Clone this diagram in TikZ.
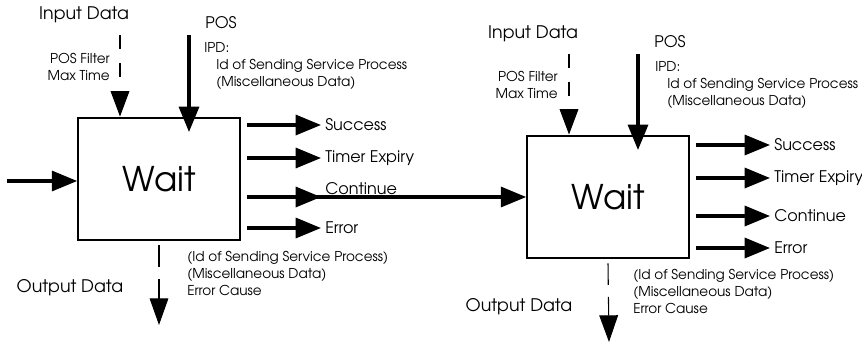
\documentclass[tikz,border=0pt]{standalone}
\usepackage{fontspec}
\setmainfont{texgyreadventor}[Extension=.otf, UprightFont=*-regular, BoldFont=*-bold]
\usetikzlibrary{arrows.meta, positioning, calc}

\tikzset{
  waitbox/.style={draw, line width=1.7pt, minimum width=121pt, minimum height=92pt,
    inner sep=0pt, font=\fontsize{25.5}{28}\selectfont},
  lbl/.style={inner sep=3pt, font=\fontsize{12}{14}\selectfont},
  iolbl/.style={inner sep=3pt, font=\fontsize{13}{15}\selectfont},
  small/.style={inner sep=0pt, align=left, font=\fontsize{10.2}{12.8}\selectfont},
  flow/.style={line width=2.4pt, -{Triangle[length=19pt, width=15pt]}},
  dataflow/.style={line width=0.8pt, dash pattern=on 10.5pt off 10.5pt,
    -{Triangle[length=19pt, width=14pt]}},
  outflow/.style={line width=0.8pt, dash pattern=on 16pt off 9pt,
    -{Triangle[length=20pt, width=14pt]}}
}

\begin{document}
\begin{tikzpicture}[x=0.75pt, y=-0.75pt]
  \useasboundingbox (0,0) rectangle (862,343);

  % first wait step
  \node[waitbox] (wait1) at (159,179) {Wait};

  \node[iolbl] (in1) at (84,15) {Input Data};
  \node[small, align=right, anchor=east] (filt1) at (110,67) {POS Filter\\Max Time};
  \coordinate (in1s) at (120,35);
  \draw[dataflow] (in1s) -- (in1s |- wait1.north);

  \node[lbl] (pos1) at (221,23) {POS};
  \coordinate (pos1s) at (189,35);
  \coordinate (pos1e) at (189,132);
  \draw[flow] (pos1s) -- (pos1e);
  \node[small, anchor=north west] (ipd1) at (204,42)
    {IPD:\\\hspace*{9pt}Id of Sending Service Process\\\hspace*{9pt}(Miscellaneous Data)};

  \coordinate (src1) at (7,181);
  \draw[flow] (src1) -- (wait1.west |- src1);

  \node[lbl, anchor=west] (succ1) at (321,125) {Success};
  \node[lbl, anchor=west] (tim1) at (321,158) {Timer Expiry};
  \node[lbl, anchor=west] (cont1) at (321,189) {Continue};
  \node[lbl, anchor=west] (err1) at (321,228) {Error};

  \draw[flow] ([xshift=5pt]wait1.east |- succ1) -- (succ1);
  \draw[flow] ([xshift=5pt]wait1.east |- tim1) -- (tim1);
  \draw[flow] ([xshift=5pt]wait1.east |- err1) -- (err1);

  \coordinate (out1e) at (159,325);
  \draw[outflow] ([yshift=-3pt]wait1.south) -- (out1e);
  \node[iolbl] (outd1) at (70,288) {Output Data};
  \node[small, anchor=north west] (res1) at (187,251)
    {(Id of Sending Service Process)\\(Miscellaneous Data)\\Error Cause};

  % second wait step
  \node[waitbox] (wait2) at (608,197) {Wait};

  % continue runs on into the second step
  \draw[flow] ([xshift=5pt]wait1.east |- wait2.west) -- (cont1.west |- wait2.west);
  \draw[flow] ([xshift=5pt]wait1.east |- wait2.west) -- (wait2.west);

  \node[iolbl] (in2) at (533,34) {Input Data};
  \node[small, align=right, anchor=east] (filt2) at (558,85) {POS Filter\\Max Time};
  \coordinate (in2s) at (569,54);
  \draw[dataflow] (in2s) -- (in2s |- wait2.north);

  \node[lbl] (pos2) at (670,42) {POS};
  \coordinate (pos2s) at (638,54);
  \coordinate (pos2e) at (638,150);
  \draw[flow] (pos2s) -- (pos2e);
  \node[small, anchor=north west] (ipd2) at (655,61)
    {IPD:\\\hspace*{9pt}Id of Sending Service Process\\\hspace*{9pt}(Miscellaneous Data)};

  \node[lbl, anchor=west] (succ2) at (770,145) {Success};
  \node[lbl, anchor=west] (tim2) at (770,178) {Timer Expiry};
  \node[lbl, anchor=west] (cont2) at (770,216) {Continue};
  \node[lbl, anchor=west] (err2) at (770,248) {Error};

  \draw[flow] ([xshift=5pt]wait2.east |- succ2) -- (succ2);
  \draw[flow] ([xshift=5pt]wait2.east |- tim2) -- (tim2);
  \draw[flow] ([xshift=5pt]wait2.east |- cont2) -- (cont2);
  \draw[flow] ([xshift=5pt]wait2.east |- err2) -- (err2);

  \coordinate (out2e) at (609,342);
  \draw[outflow] ([yshift=-3pt]wait2.south) -- (out2e);
  \node[iolbl] (outd2) at (519,307) {Output Data};
  \node[small, anchor=north west] (res2) at (633,269)
    {(Id of Sending Service Process)\\(Miscellaneous Data)\\Error Cause};
\end{tikzpicture}
\end{document}
